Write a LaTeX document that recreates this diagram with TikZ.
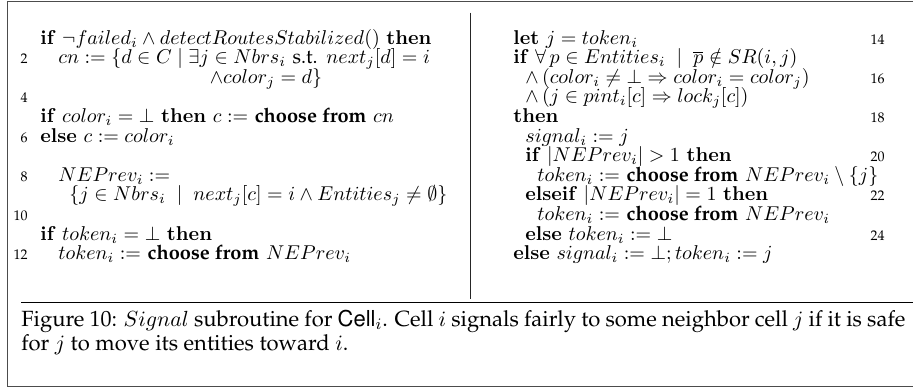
\documentclass[tikz,border=0pt]{standalone}
\usepackage[T1,TU]{fontenc}
\usepackage{amsmath,amssymb}
\newcommand\pal{\fontencoding{T1}\fontfamily{ppl}\selectfont}
\newcommand\helv[1]{{\fontencoding{T1}\fontfamily{phv}\selectfont #1}}
\newcommand\kwch{\textbf{\pal choose from}}
\newcommand\kw[1]{\textbf{#1}}
\tikzset{
  algline/.style={anchor=base west, inner sep=0pt, font=\fontsize{10}{12}\selectfont},
  algnum/.style={anchor=base east, inner sep=0pt, font=\pal\fontsize{7}{8}\selectfont},
  framebox/.style={draw=black!70, line width=0.5pt},
  colrule/.style={draw=black!85, line width=0.75pt},
  caprule/.style={draw=black, line width=0.5pt}
}
\begin{document}
\begin{tikzpicture}[x=0.5pt, y=-0.5pt]
\useasboundingbox (0,0) rectangle (913,387);
% outer frame and separating rules
\draw[framebox] (7,1.5) rectangle (930,386);
\coordinate (dtop) at (470.7,12.5);
\coordinate (dbot) at (470.7,299);
\draw[colrule] (dtop) -- (dbot);
\coordinate (rl) at (21,302.5);
\coordinate (rr) at (930,302.5);
\draw[caprule] (rl) -- (rr);

% left column
\def\ya{44}\def\dy{19.6}
\def\lx{40}\def\lxa{58}\def\lxb{69}\def\lnum{28}
\node[algline] (l1) at (\lx,{\ya+0*\dy}) {\kw{if} $\neg failed_i \wedge detectRoutesStabilized()$ \kw{then}};
\node[algnum] (n2) at (\lnum,{\ya+1*\dy}) {2};
\node[algline] (l2) at (\lxa,{\ya+1*\dy}) {$cn := \{d \in C \mid \exists j \in Nbrs_i$ {\pal s.t.} $next_j[d] = i$};
\node[algline, anchor=base] (l3) at (266,{\ya+2*\dy}) {$\wedge color_j = d\}$};
\node[algnum] (n4) at (\lnum,{\ya+3*\dy}) {4};
\node[algline] (l5) at (\lx,{\ya+4*\dy}) {\kw{if} $color_i = \bot$ \kw{then} $c :=$ \kwch{} $cn$};
\node[algnum] (n6) at (\lnum,{\ya+5*\dy}) {6};
\node[algline] (l6) at (\lx,{\ya+5*\dy}) {\kw{else} $c := color_i$};
\node[algnum] (n8) at (\lnum,{\ya+7*\dy}) {8};
\node[algline] (l8) at (\lxa,{\ya+7*\dy}) {$NEPrev_i :=$};
\node[algline] (l9) at (\lxb,{\ya+8*\dy}) {$\{j \in Nbrs_i \;\mid\; next_j[c] = i \wedge Entities_j \neq \emptyset\}$};
\node[algnum] (n10) at (\lnum,{\ya+9*\dy}) {10};
\node[algline] (l11) at (\lx,{\ya+10*\dy}) {\kw{if} $token_i = \bot$ \kw{then}};
\node[algnum] (n12) at (\lnum,{\ya+11*\dy}) {12};
\node[algline] (l12) at (\lxa,{\ya+11*\dy}) {$token_i :=$ \kwch{} $NEPrev_i$};

% right column
\def\rx{513}\def\rxa{525}\def\rxb{537}\def\rnum{885}
\node[algline] (r1) at (\rx,{\ya+0*\dy}) {\kw{let} $j = token_i$};
\node[algnum] (n14) at (\rnum,{\ya+0*\dy}) {14};
\node[algline] (r2) at (\rx,{\ya+1*\dy}) {\kw{if} $\forall\, p \in Entities_i \;\mid\; \overline{p} \notin SR(i,j)$};
\node[algline] (r3) at (\rxa,{\ya+2*\dy}) {$\wedge\, (color_i \neq \bot \Rightarrow color_i = color_j)$};
\node[algnum] (n16) at (\rnum,{\ya+2*\dy}) {16};
\node[algline] (r4) at (\rxa,{\ya+3*\dy}) {$\wedge\, (j \in pint_i[c] \Rightarrow lock_j[c])$};
\node[algline] (r5) at (\rx,{\ya+4*\dy}) {\kw{then}};
\node[algnum] (n18) at (\rnum,{\ya+4*\dy}) {18};
\node[algline] (r6) at (\rxa,{\ya+5*\dy}) {$signal_i := j$};
\node[algline] (r7) at (\rxa,{\ya+6*\dy}) {\kw{if} $|NEPrev_i| > 1$ \kw{then}};
\node[algnum] (n20) at (\rnum,{\ya+6*\dy}) {20};
\node[algline] (r8) at (\rxb,{\ya+7*\dy}) {$token_i :=$ \kwch{} $NEPrev_i \setminus \{j\}$};
\node[algline] (r9) at (\rxa,{\ya+8*\dy}) {\kw{elseif} $|NEPrev_i| = 1$ \kw{then}};
\node[algnum] (n22) at (\rnum,{\ya+8*\dy}) {22};
\node[algline] (r10) at (\rxb,{\ya+9*\dy}) {$token_i :=$ \kwch{} $NEPrev_i$};
\node[algline] (r11) at (\rxa,{\ya+10*\dy}) {\kw{else} $token_i := \bot$};
\node[algnum] (n24) at (\rnum,{\ya+10*\dy}) {24};
\node[algline] (r12) at (\rx,{\ya+11*\dy}) {\kw{else} $signal_i := \bot; token_i := j$};

% caption
\node[anchor=north west, inner sep=0pt, text width=442pt, align=justify,
      font=\pal\fontsize{11}{12}\selectfont] (cap) at (21,310)
  {Figure 10: $Signal$ subroutine for \helv{Cell}$_i$. Cell $i$ signals fairly to some neighbor cell $j$ if it is safe for $j$ to move its entities toward $i$.};
\end{tikzpicture}
\end{document}
